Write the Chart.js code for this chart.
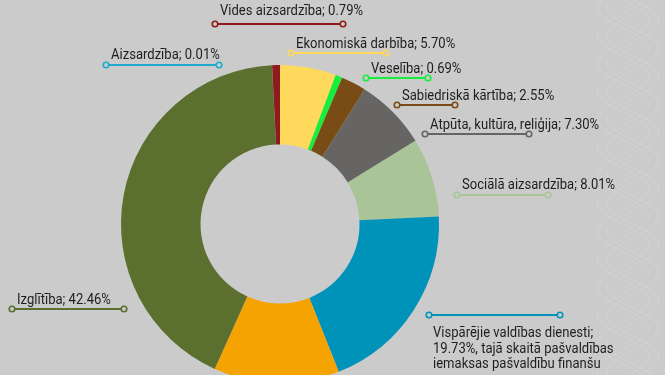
<!DOCTYPE html>
<html>
<head>
<meta charset="utf-8">
<script src="https://cdn.jsdelivr.net/npm/chart.js@4.4.0/dist/chart.umd.min.js"></script>
<style>
  html, body { margin: 0; padding: 0; background: #cbcbcb; overflow: hidden; }
  #wrap { position: relative; width: 665px; height: 400px; }
</style>
</head>
<body>
<div id="wrap"><canvas id="chart"></canvas></div>
<script>
// budget shares, clockwise from 12 o'clock
const categories = [
    'Ekonomiskā darbība',
    'Veselība',
    'Sabiedriskā kārtība',
    'Atpūta, kultūra, reliģija',
    'Sociālā aizsardzība',
    'Vispārējie valdības dienesti',
    'Teritoriju un mājokļu apsaimniekošana',
    'Izglītība',
    'Aizsardzība',
    'Vides aizsardzība'
];
const shares = [5.70, 0.69, 2.55, 7.30, 8.01, 19.73, 12.76, 42.46, 0.01, 0.79];
const colors = ['#ffd95c', '#17ee3c', '#7a4c15', '#666564', '#a9c597', '#0093b9', '#f5a300', '#5b6f2f', '#1eaad0', '#8e1c1c'];

// where each callout sits: line x1, x2, line y, text baseline gap above line
const callouts = [
    [291, 386, 53, 5],
    [366, 428, 78, 5],
    [397, 455, 105, 5],
    [425, 529, 134, 5],
    [457, 548, 195, 6],
    [429, 560, 315, 0],
    null,
    [12, 124, 309, 5],
    [106, 219, 65, 6],
    [215, 343, 24, 9]
];
const extraLines = { 5: ['19.73%, tajā skaitā pašvaldības', 'iemaksas pašvaldību finanšu'] };

// slightly narrowed text, the original uses a condensed face
function label(ctx, text, x, y) {
    ctx.save();
    ctx.translate(x, y);
    ctx.scale(0.932, 1);
    ctx.fillText(text, 0, 0);
    ctx.restore();
}

const calloutPlugin = {
    id: 'callouts',
    afterDraw(chart) {
        const ctx = chart.ctx;
        ctx.save();
        ctx.font = '14px Roboto';
        ctx.textAlign = 'left';
        ctx.textBaseline = 'alphabetic';
        callouts.forEach((c, i) => {
            if (!c) return;
            const [x1, x2, y, dy] = c;
            ctx.strokeStyle = colors[i];
            ctx.lineWidth = 2;
            ctx.beginPath();
            ctx.moveTo(x1, y);
            ctx.lineTo(x2, y);
            ctx.stroke();
            [x1, x2].forEach(x => {
                ctx.beginPath();
                ctx.arc(x, y, 2.8, 0, Math.PI * 2);
                ctx.fillStyle = '#cbcbcb';
                ctx.fill();
                ctx.lineWidth = 1.6;
                ctx.stroke();
            });
            ctx.fillStyle = '#1e1e1e';
            if (extraLines[i]) {
                label(ctx, categories[i] + ';', x1 + 4, y + 22);
                extraLines[i].forEach((t, k) => label(ctx, t, x1 + 4, y + 22 + 15.5 * (k + 1)));
            } else {
                label(ctx, categories[i] + '; ' + shares[i].toFixed(2) + '%', x1 + 5, y - dy);
            }
        });
        ctx.restore();
    }
};

// faint plaited ornament along the right edge
const braidPlugin = {
    id: 'braid',
    beforeDraw(chart) {
        const ctx = chart.ctx;
        ctx.save();
        ctx.strokeStyle = 'rgba(220,220,220,0.45)';
        ctx.lineWidth = 1;
        const cx = 628, amp = 26, period = 84;
        for (let s = 0; s < 3; s++) {
            const ph = s * Math.PI * 2 / 3;
            [-5, 5].forEach(off => {
                ctx.beginPath();
                for (let y = -10; y <= 410; y += 2) {
                    const x = cx + off + amp * Math.sin(y / period * Math.PI * 2 + ph);
                    if (y === -10) ctx.moveTo(x, y); else ctx.lineTo(x, y);
                }
                ctx.stroke();
            });
        }
        ctx.restore();
    }
};

new Chart(document.getElementById('chart').getContext('2d'), {
    type: 'doughnut',
    data: {
        labels: categories,
        datasets: [{
            data: shares,
            backgroundColor: colors,
            borderWidth: 0
        }]
    },
    options: {
        responsive: true,
        maintainAspectRatio: false,
        animation: false,
        cutout: '50%',
        layout: { padding: { left: 121, right: 226, top: 65, bottom: 17 } },
        plugins: {
            legend: { display: false },
            tooltip: { enabled: false }
        }
    },
    plugins: [braidPlugin, calloutPlugin]
});
</script>
</body>
</html>
